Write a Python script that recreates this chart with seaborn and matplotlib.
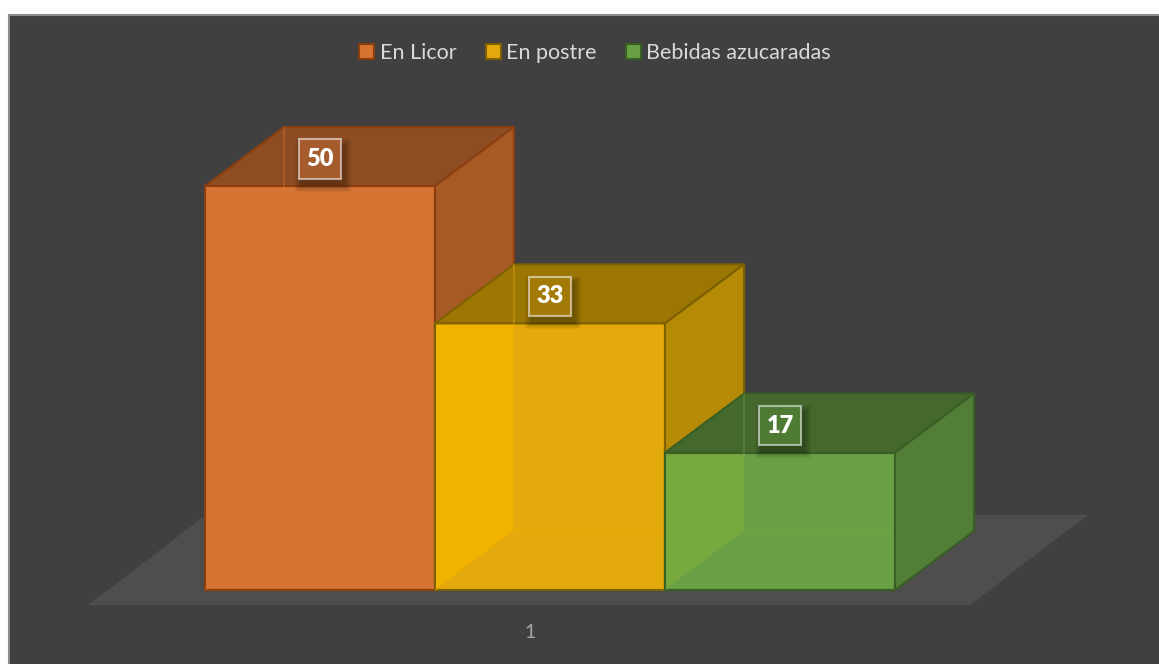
import matplotlib
matplotlib.use("Agg")
import pandas as pd
import seaborn as sns
import matplotlib.pyplot as plt
from matplotlib.patches import Polygon, Rectangle, Patch
from matplotlib.transforms import ScaledTranslation

# --- datos ---
categorias = ["1"]
series = ["En Licor", "En postre", "Bebidas azucaradas"]
valores = [50, 33, 17]

# --- estilo de cada serie (frente, cara izquierda, tapa, lateral, borde, caja) ---
color_frente = ["#D67433", "#E4A90C", "#69A045"]
color_izq = ["#D67433", "#F2B200", "#77A93E"]
color_tapa = ["#8D4C22", "#9C7602", "#45692C"]
color_lado = ["#A85A25", "#B48A07", "#527E38"]
color_borde = ["#8B3F10", "#7D6000", "#3A5F24"]
color_caja = ["#A65B2C", "#A27A05", "#4E7A34"]

plt.rcParams["font.family"] = ["Lato", "DejaVu Sans"]

W, H = 1159, 664
fig = plt.figure(figsize=(W / 100, H / 100), dpi=100)
fig.patch.set_facecolor("white")
fig.add_artist(Rectangle((8.5 / W, -0.02), 1.1, (H - 14.5) / H + 0.02,
                         transform=fig.transFigure, facecolor="#404040",
                         edgecolor="#8C8C8C", lw=1.5, zorder=0))

ax_bottom = 59
ax = fig.add_axes([0, ax_bottom / H, 1, (H - ax_bottom) / H])
ax.set_facecolor("none")

df = pd.DataFrame({"categoria": categorias * len(series),
                   "serie": series,
                   "valor": valores})
sns.barplot(data=df, x="categoria", y="valor", hue="serie", hue_order=series,
            palette=color_frente, saturation=1, width=0.8, dodge=True,
            legend=False, ax=ax)

# escala en píxeles por unidad de datos
ppx, ppy = 862.5, 8.08
x_center_px, base_px = 550, 15
ax.set_xlim(-x_center_px / ppx, (W - x_center_px) / ppx)
ax.set_ylim(-base_px / ppy, (H - ax_bottom - base_px) / ppy)

# profundidad de las cajas 3D y del suelo
ddx, ddy = 79 / ppx, 59 / ppy
fdx, fdy = 118 / ppx, 90 / ppy

bars = list(ax.patches)
left = min(b.get_x() for b in bars)
right = max(b.get_x() + b.get_width() for b in bars)
fy = -base_px / ppy
fl, fr = left - 117 / ppx, right + 75 / ppx
ax.add_patch(Polygon([(fl, fy), (fr, fy), (fr + fdx, fy + fdy), (fl + fdx, fy + fdy)],
                     closed=True, facecolor="#4F4D4E", edgecolor="none", zorder=1))

for i, bar in enumerate(bars):
    x0, w, h = bar.get_x(), bar.get_width(), bar.get_height()
    z = 3 + i
    bar.set_zorder(z)
    bar.set_edgecolor(color_borde[i])
    bar.set_linewidth(1.5)
    # cara izquierda vista a través del frente
    ax.add_patch(Polygon([(x0, 0), (x0 + ddx, ddy), (x0 + ddx, h), (x0, h)],
                         closed=True, facecolor=color_izq[i], edgecolor="none",
                         zorder=z + 0.05))
    top = Polygon([(x0, h), (x0 + w, h), (x0 + w + ddx, h + ddy), (x0 + ddx, h + ddy)],
                  closed=True, facecolor=color_tapa[i], edgecolor=color_borde[i],
                  lw=1.5, zorder=z + 0.1)
    side = Polygon([(x0 + w, 0), (x0 + w + ddx, ddy), (x0 + w + ddx, h + ddy), (x0 + w, h)],
                   closed=True, facecolor=color_lado[i], edgecolor=color_borde[i],
                   lw=1.5, zorder=z + 0.1)
    ax.add_patch(top)
    ax.add_patch(side)
    # aristas ocultas que se transparentan
    ax.plot([x0, x0 + ddx, x0 + ddx], [0, ddy, h + ddy], color=color_frente[i],
            lw=1.2, alpha=0.45, zorder=z + 0.2, solid_capstyle="butt")
    ax.plot([x0 + ddx, x0 + w], [ddy, ddy], color=color_izq[i],
            lw=1.2, alpha=0.5, zorder=z + 0.06, solid_capstyle="butt")
    bar.set_linewidth(1.5)

    # etiqueta de valor con caja y sombra suave
    cx, cy = x0 + w / 2, h + 27 / ppy
    hw, hh = 21 / ppx, 19.5 / ppy
    for k in range(7):
        gx, gy = (k + 1) / ppx, (k + 1) / ppy
        ax.add_patch(Rectangle((cx - hw + 3 / ppx - gx, cy - hh - 6 / ppy - gy),
                               2 * (hw + gx), 2 * (hh + gy), facecolor="black",
                               edgecolor="none", alpha=0.045, zorder=z + 0.3))
    ax.add_patch(Rectangle((cx - hw, cy - hh), 2 * hw, 2 * hh,
                           facecolor=color_caja[i], edgecolor=(1, 1, 1, 0.55),
                           lw=1.5, zorder=z + 0.4))
    ax.text(cx, cy, f"{valores[i]}", ha="center", va="center", color="white",
            fontsize=17, fontweight="heavy", zorder=z + 0.5)

# el borde del frente por encima de la cara izquierda
for i, bar in enumerate(bars):
    x0, w, h = bar.get_x(), bar.get_width(), bar.get_height()
    ax.add_patch(Rectangle((x0, 0), w, h, facecolor="none", edgecolor=color_borde[i],
                           lw=1.5, zorder=3 + i + 0.08))

for s in ax.spines.values():
    s.set_visible(False)
ax.set_yticks([])
ax.set_xlabel("")
ax.set_ylabel("")
ax.tick_params(axis="x", length=0, pad=14, labelsize=14, labelcolor="#A6A6A6")
for lbl in ax.get_xticklabels():
    lbl.set_transform(lbl.get_transform() + ScaledTranslation(-20 / 100, 0, fig.dpi_scale_trans))

handles = [Patch(facecolor=color_frente[i], edgecolor=color_borde[i], lw=1.5)
           for i in range(len(series))]
fig.legend(handles=handles, labels=series, loc="center",
           bbox_to_anchor=(595 / W, 611 / H), ncol=3, frameon=False,
           fontsize=15.5, handlelength=0.7, handleheight=0.7, handletextpad=0.25,
           columnspacing=1.35, labelcolor="#D9D9D9")

fig.savefig("out.png", dpi=100, facecolor=fig.get_facecolor())
